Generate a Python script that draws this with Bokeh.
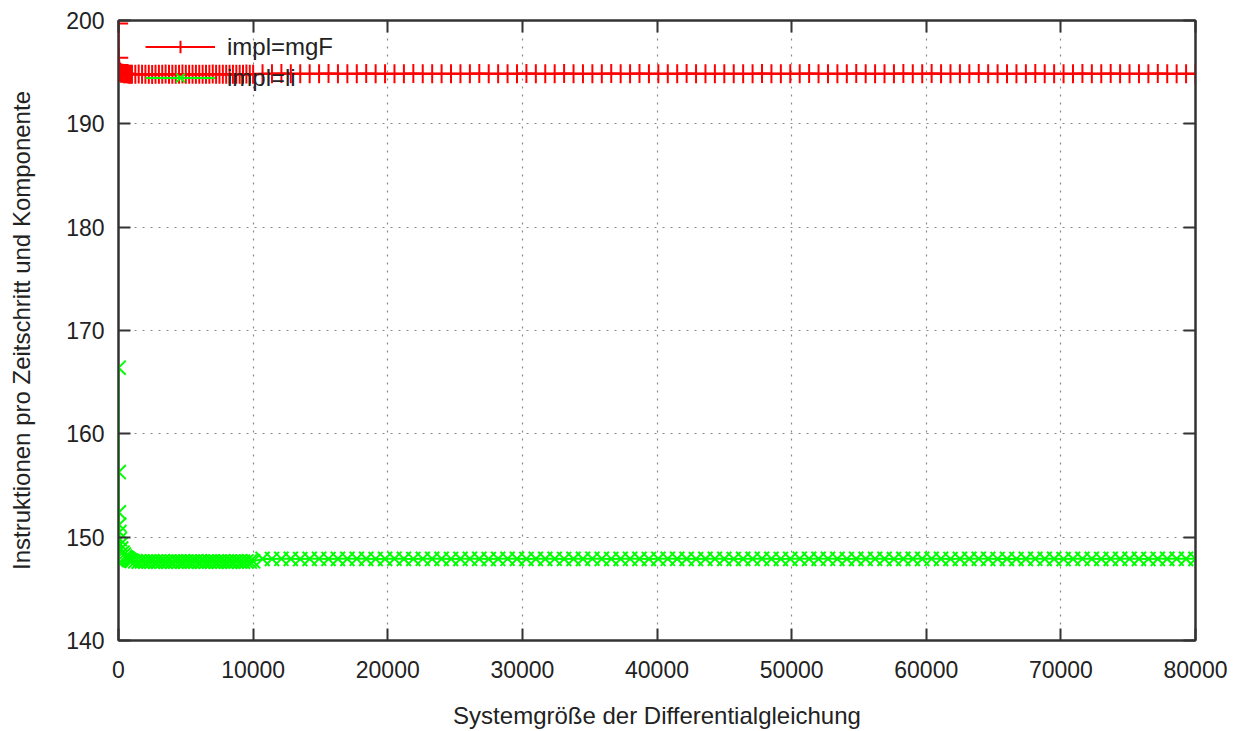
from bokeh.plotting import figure
from bokeh.models import Range1d, FixedTicker, LinearAxis, Legend, LegendItem
from bokeh.embed import file_html
from bokeh.resources import INLINE

# System sizes at which the instruction counts were measured
sizes_head = [10, 20, 30, 50, 70, 100, 150, 200, 300, 400, 500, 600, 700, 800, 900, 1000]
sizes_mid = list(range(1250, 10001, 250))
sizes_tail = list(range(10700, 80001, 700))
sizes = sizes_head + sizes_mid + sizes_tail

# Instructions per time step and component, implementation "mgF"
mgf_head = [199.7, 196.4, 195.7, 195.3, 195.1, 195.0, 194.95, 194.9,
            194.9, 194.85, 194.85, 194.85, 194.82, 194.81, 194.8, 194.8]
mgf_mid = [194.80, 194.82, 194.79, 194.81, 194.80, 194.78, 194.81, 194.80, 194.79, 194.82,
           194.80, 194.81, 194.79, 194.80, 194.82, 194.80, 194.79, 194.81, 194.80, 194.80,
           194.81, 194.79, 194.80, 194.82, 194.80, 194.81, 194.79, 194.80, 194.81, 194.80,
           194.79, 194.81, 194.80, 194.82, 194.80, 194.81]
mgf_tail = [194.85, 194.84, 194.86, 194.85, 194.85, 194.84, 194.85, 194.86, 194.85, 194.84,
            194.85, 194.86, 194.85, 194.84, 194.85, 194.85, 194.86, 194.85, 194.84, 194.85,
            194.84, 194.85, 194.85, 194.86, 194.85, 194.84, 194.85, 194.85, 194.86, 194.85,
            194.85, 194.84, 194.86, 194.85, 194.85, 194.84, 194.85, 194.86, 194.85, 194.85,
            194.86, 194.85, 194.84, 194.85, 194.85, 194.86, 194.85, 194.84, 194.85, 194.85,
            194.85, 194.84, 194.85, 194.86, 194.85, 194.85, 194.84, 194.85, 194.86, 194.85,
            194.84, 194.85, 194.85, 194.86, 194.85, 194.84, 194.85, 194.85, 194.86, 194.85,
            194.85, 194.86, 194.85, 194.84, 194.85, 194.85, 194.86, 194.85, 194.84, 194.85,
            194.85, 194.84, 194.86, 194.85, 194.85, 194.84, 194.85, 194.86, 194.85, 194.85,
            194.86, 194.85, 194.84, 194.85, 194.85, 194.86, 194.85, 194.84, 194.85, 194.85]

# Instructions per time step and component, implementation "li"
li_head = [166.4, 156.3, 152.4, 151.2, 150.5, 149.8, 149.3, 148.9,
           148.5, 148.3, 148.1, 148.0, 147.9, 147.8, 147.75, 147.7]
li_mid = [147.66, 147.63, 147.65, 147.62, 147.64, 147.66, 147.63, 147.65, 147.64, 147.62,
          147.65, 147.63, 147.66, 147.64, 147.62, 147.65, 147.63, 147.64, 147.66, 147.63,
          147.65, 147.62, 147.64, 147.66, 147.63, 147.65, 147.64, 147.62, 147.65, 147.63,
          147.66, 147.64, 147.63, 147.65, 147.64, 147.66]
li_tail = [147.90, 147.89, 147.91, 147.90, 147.88, 147.90, 147.91, 147.89, 147.90, 147.90,
           147.91, 147.90, 147.89, 147.90, 147.92, 147.90, 147.89, 147.91, 147.90, 147.90,
           147.89, 147.90, 147.91, 147.90, 147.88, 147.90, 147.91, 147.90, 147.89, 147.90,
           147.90, 147.91, 147.89, 147.90, 147.90, 147.92, 147.90, 147.89, 147.90, 147.91,
           147.90, 147.89, 147.90, 147.91, 147.90, 147.90, 147.88, 147.90, 147.91, 147.90,
           147.89, 147.90, 147.90, 147.91, 147.90, 147.89, 147.90, 147.92, 147.90, 147.90,
           147.91, 147.90, 147.89, 147.90, 147.90, 147.91, 147.90, 147.88, 147.90, 147.90,
           147.90, 147.91, 147.90, 147.89, 147.90, 147.90, 147.91, 147.90, 147.89, 147.90,
           147.89, 147.90, 147.91, 147.90, 147.90, 147.88, 147.90, 147.91, 147.90, 147.89,
           147.90, 147.90, 147.91, 147.90, 147.89, 147.90, 147.90, 147.91, 147.90, 147.90]

mgf = mgf_head + mgf_mid + mgf_tail
li = li_head + li_mid + li_tail

x_ticks = [0, 10000, 20000, 30000, 40000, 50000, 60000, 70000, 80000]
y_ticks = [140, 150, 160, 170, 180, 190, 200]

FONT = "Liberation Sans"
TEXT = "#222222"

p = figure(width=1240, height=731, output_backend="svg", toolbar_location=None,
           x_range=Range1d(0, 80000), y_range=Range1d(140, 200),
           min_border_left=118, min_border_right=45, min_border_top=20,
           min_border_bottom=91, background_fill_color="white",
           border_fill_color="white")

p.outline_line_color = "#333333"
p.outline_line_width = 2

# dotted grid at each major tick
for g, t in ((p.xgrid, x_ticks), (p.ygrid, y_ticks)):
    g.ticker = FixedTicker(ticks=t)
    g.grid_line_color = "#8a8a8a"
    g.grid_line_dash = "2 6"
    g.grid_line_width = 1.2

def style_axis(ax, ticks, labels=True):
    ax.ticker = FixedTicker(ticks=ticks)
    ax.axis_line_color = "#333333"
    ax.axis_line_width = 2
    ax.major_tick_in = 12
    ax.major_tick_out = 0
    ax.major_tick_line_color = "#333333"
    ax.major_tick_line_width = 2
    ax.minor_tick_line_color = None
    ax.major_label_text_font = FONT
    ax.major_label_text_font_size = "23px"
    ax.major_label_text_color = TEXT if labels else None
    ax.axis_label_text_font = FONT
    ax.axis_label_text_font_size = "24px"
    ax.axis_label_text_font_style = "normal"
    ax.axis_label_text_color = TEXT

style_axis(p.xaxis[0], x_ticks)
style_axis(p.yaxis[0], y_ticks)
p.xaxis[0].axis_label = "Systemgröße der Differentialgleichung"
p.yaxis[0].axis_label = "Instruktionen pro Zeitschritt und Komponente"
p.xaxis[0].major_label_standoff = 20
p.xaxis[0].axis_label_standoff = 21
p.yaxis[0].major_label_standoff = 14
p.yaxis[0].axis_label_standoff = 28

# mirrored ticks on the top and right edges
top = LinearAxis()
right = LinearAxis()
style_axis(top, x_ticks, labels=False)
style_axis(right, y_ticks, labels=False)
top.major_label_text_font_size = "0px"
right.major_label_text_font_size = "0px"
top.major_label_standoff = 0
right.major_label_standoff = 0
p.add_layout(top, "above")
p.add_layout(right, "right")

red = "#ff0000"
green = "#00ff00"

l_mgf = p.line(sizes, mgf, line_color=red, line_width=2)
m_mgf = p.scatter(sizes, mgf, marker="cross", size=19, line_color=red, line_width=2)
l_li = p.line(sizes, li, line_color=green, line_width=2)
m_li = p.scatter(sizes, li, marker="x", size=20, line_color=green, line_width=2)

legend = Legend(items=[LegendItem(label="impl=mgF", renderers=[l_mgf, m_mgf]),
                       LegendItem(label="impl=li", renderers=[l_li, m_li])],
                location=(27, 547), glyph_width=70, glyph_height=31,
                label_height=20, label_standoff=12, spacing=0, padding=0,
                margin=0, border_line_color=None, background_fill_alpha=0,
                label_text_font=FONT, label_text_font_size="24px",
                label_text_color=TEXT)
p.add_layout(legend)

open("out.html", "w").write(file_html(p, INLINE))
